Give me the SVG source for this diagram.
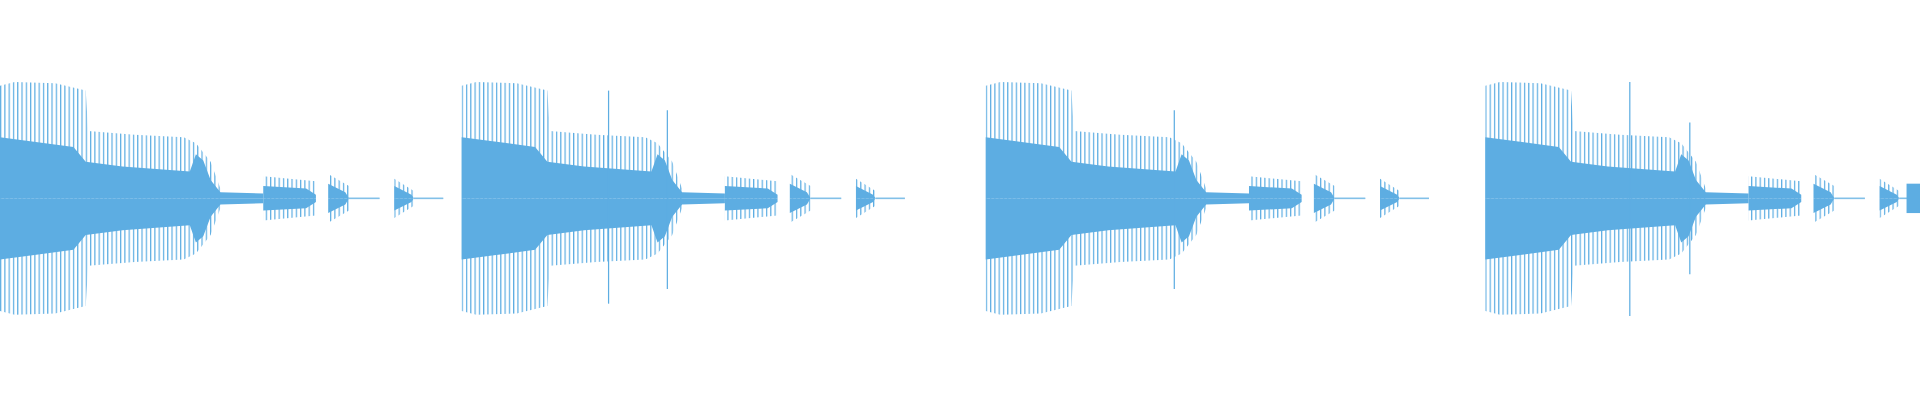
<svg xmlns="http://www.w3.org/2000/svg" width="1920" height="400" viewBox="0 0 1920 400">
<defs>
<style>.w{fill:#5dade2}.s{fill:url(#st)}.k{stroke:#5dade2;stroke-width:1}</style>
<pattern id="st" width="3.5" height="10" patternUnits="userSpaceOnUse"><rect width="1" height="10" fill="#5dade2"/></pattern>
<g id="half">
<path class="s" d="M0,0 L0,-92 L12,-95 L45,-94 L70,-88 L72,-55 L110,-52 L150,-50 L160,-45 L172,-30 L180,-8 L180,0 Z"/>
<path class="w" d="M0,0 L0,-50 L60,-42 L70,-30 L100,-26 L155,-22 L160,-36 L166,-31 L172,-15 L180,-5 L215,-4 L215,0 Z"/>
<path class="s" d="M215,0 L215,-18 L258,-14 L258,0 Z"/>
<path class="w" d="M215,0 L215,-10 L250,-8 L258,-3 L258,0 Z"/>
<path class="s" d="M268,0 L268,-20 L285,-10 L285,0 Z"/>
<path class="w" d="M268,0 L268,-12 L282,-5 L285,0 Z"/>
<rect class="w" x="285" y="-0.6" width="25" height="0.6"/>
<path class="s" d="M322,0 L322,-16 L338,-6 L338,0 Z"/>
<path class="w" d="M322,0 L322,-10 L336,-3 L338,0 Z"/>
<rect class="w" x="338" y="-0.6" width="24" height="0.6"/>
</g>
<g id="note"><use href="#half"/><use href="#half" transform="scale(1,-1)"/></g>
</defs>
<rect width="1920" height="400" fill="#fff"/>
<g transform="scale(1.2245)">
<g id="n1" transform="translate(0,162)"><use href="#note"/></g>
<g id="n2" transform="translate(377,162)"><use href="#note"/></g>
<g id="n3" transform="translate(805,162)"><use href="#note"/></g>
<g id="n4" transform="translate(1213,162)"><use href="#note"/></g>
<g id="spikes">
<line class="k" x1="497" y1="74" x2="497" y2="248"/>
<line class="k" x1="545" y1="90" x2="545" y2="236"/>
<line class="k" x1="959" y1="90" x2="959" y2="236"/>
<line class="k" x1="1331" y1="67" x2="1331" y2="258"/>
<line class="k" x1="1380" y1="100" x2="1380" y2="224"/>
</g>
<rect class="w" x="1557" y="150" width="11" height="24"/>
</g>
</svg>
